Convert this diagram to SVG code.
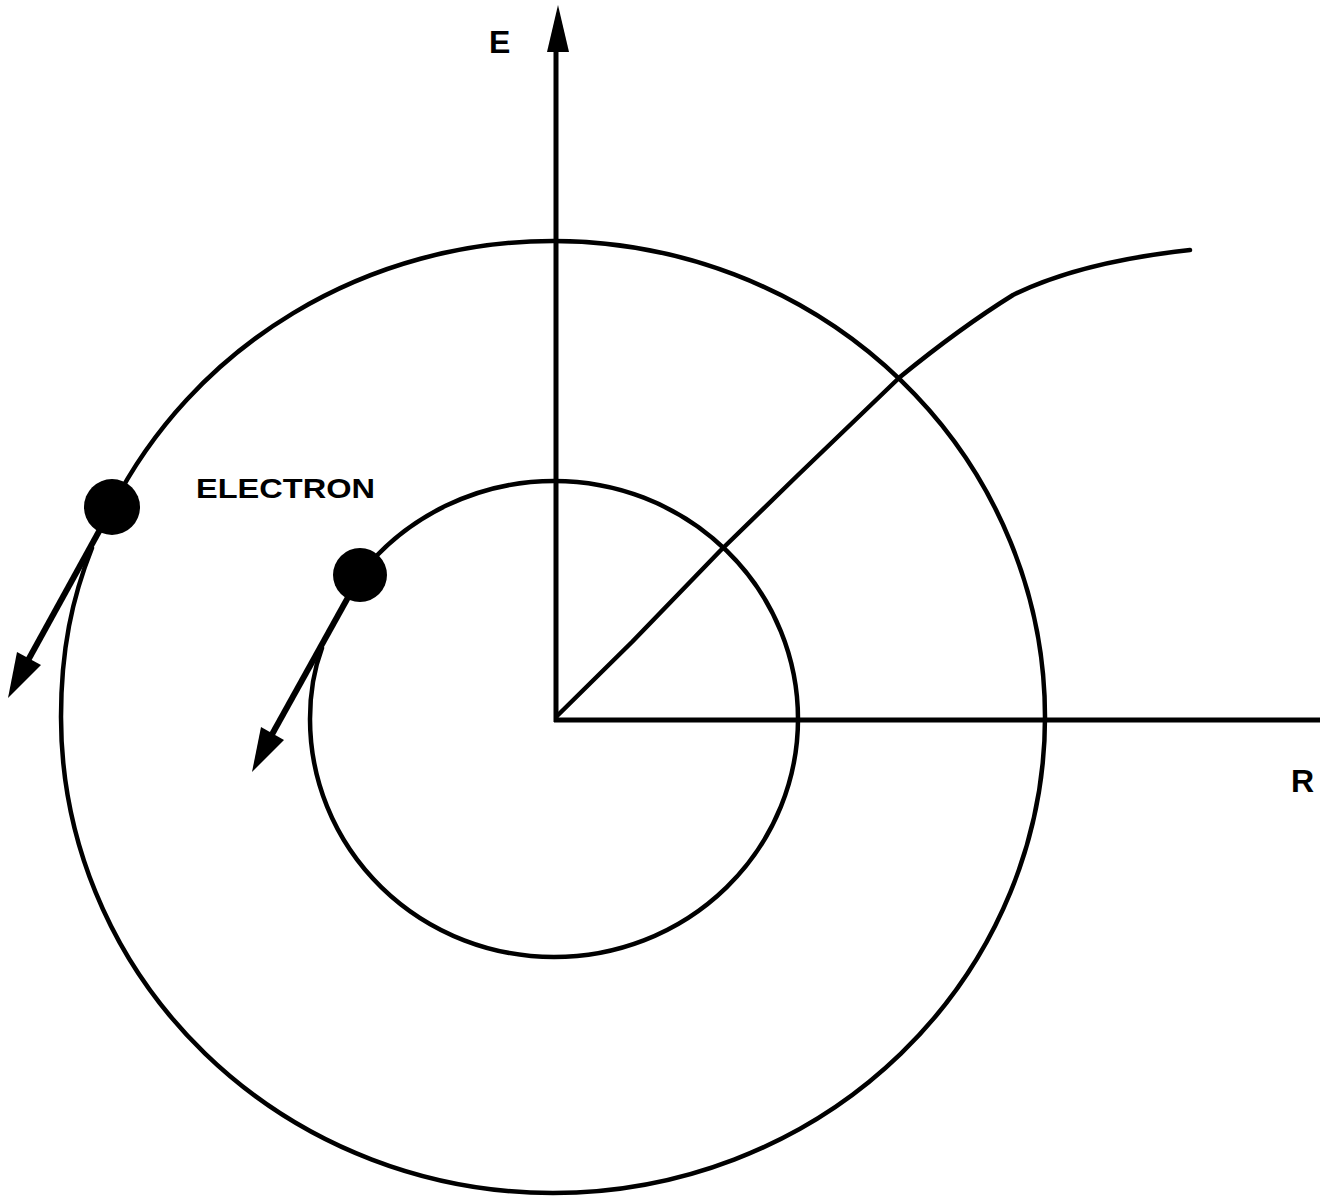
<svg xmlns="http://www.w3.org/2000/svg" width="1337" height="1197" viewBox="0 0 1337 1197">
<style>
.ln{fill:none;stroke:#000;stroke-width:4.5;stroke-linecap:round;stroke-linejoin:round}
.sh{fill:none;stroke:#000;stroke-width:6;stroke-linecap:butt}
.hd{fill:#000;stroke:none}
.lb{font-family:"Liberation Sans",Arial,sans-serif;font-weight:bold;fill:#000}
</style>
<rect width="1337" height="1197" fill="#fff"/>
<g id="connectors">
<g id="axis-E">
<line class="sh" x1="556" y1="722" x2="556" y2="48" style="stroke-width:5"/>
<polygon class="hd" points="558,5 547,52 569,52"/>
</g>
<line id="axis-R" class="sh" x1="554" y1="720" x2="1320" y2="720" style="stroke-width:5"/>
<path id="energy-curve" class="ln" d="M557 716 L632 642 L720 551 L797 476 L900 377 Q960 328 1013 295 Q1080 262 1190 250"/>
</g>
<g id="outer-orbit">
<path class="ln" d="M112 507 A492 476 0 0 1 553 241 A492 476 0 0 1 1045 717 A492 476 0 0 1 553 1193 A492 476 0 0 1 61 717 C61 650 72 598 92 548"/>
</g>
<g id="inner-orbit">
<path class="ln" d="M360 575 A244 238 0 0 1 554 481 A244 238 0 0 1 798 719 A244 238 0 0 1 554 957 A244 238 0 0 1 310 719 C310 695 313 672 322 648"/>
</g>
<g id="outer-electron">
<circle cx="112" cy="507" r="28" fill="#000"/>
<line class="sh" x1="108" y1="515" x2="26" y2="664"/>
<polygon class="hd" points="8,698 17,652 41,665"/>
</g>
<g id="inner-electron">
<circle cx="360" cy="575" r="27" fill="#000"/>
<line class="sh" x1="356" y1="583" x2="270" y2="738"/>
<polygon class="hd" points="252,772 261,727 284,740"/>
</g>
<text class="lb" x="489" y="53" font-size="32">E</text>
<text class="lb" x="1291" y="792" font-size="32">R</text>
<text id="label-electron" class="lb" x="196" y="498" font-size="28" textLength="179" lengthAdjust="spacingAndGlyphs">ELECTRON</text>
</svg>
